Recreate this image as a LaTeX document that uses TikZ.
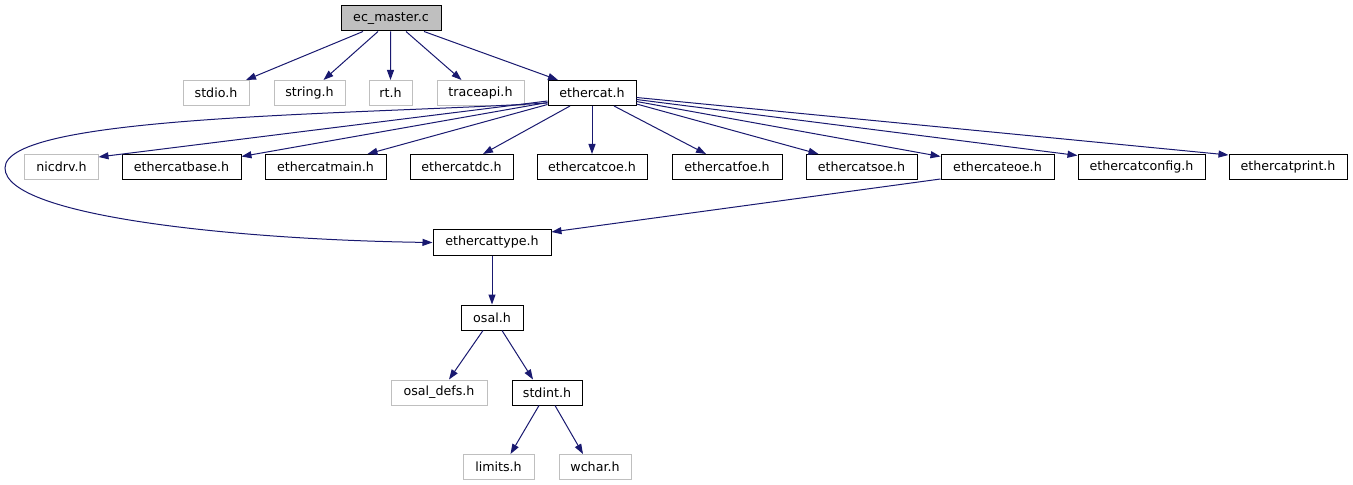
\documentclass[tikz,border=0pt]{standalone}
\usepackage{fontspec}
\setmainfont{DejaVu Sans}
\usetikzlibrary{arrows.meta}
\definecolor{edgeblue}{HTML}{191970}
\definecolor{lightgr}{HTML}{BFBFBF}
\begin{document}
\begin{tikzpicture}[x=1bp,y=-1bp,
  box/.style={draw=black, line width=1bp, minimum height=25bp, inner sep=0pt,
    font=\fontsize{12.66bp}{15bp}\selectfont, text=black},
  ext/.style={box, draw=lightgr},
  root/.style={box, fill=lightgr},
  dep/.style={draw=edgeblue, line width=1bp, -{Triangle[length=10bp,width=7bp]}}]
\useasboundingbox[fill=white] (0,0) rectangle (1353,485);
% row 1
\node[root, minimum width=100bp] (ecm) at (391,18.5) {ec\_master.c};
% row 2
\node[ext, minimum width=66bp] (stdio) at (216,93) {stdio.h};
\node[ext, minimum width=71bp] (string) at (309.5,93) {string.h};
\node[ext, minimum width=43bp] (rt) at (390.5,93) {rt.h};
\node[ext, minimum width=87bp] (trace) at (480.5,93) {traceapi.h};
\node[box, minimum width=88bp] (ecat) at (592,93) {ethercat.h};
% row 3
\node[ext, minimum width=73bp] (nicdrv) at (61.5,167) {nicdrv.h};
\node[box, minimum width=119bp] (base) at (181.5,167) {ethercatbase.h};
\node[box, minimum width=121bp] (main) at (325.5,167) {ethercatmain.h};
\node[box, minimum width=103bp] (dc) at (461.5,167) {ethercatdc.h};
\node[box, minimum width=110bp] (coe) at (592,167) {ethercatcoe.h};
\node[box, minimum width=110bp] (foe) at (727,167) {ethercatfoe.h};
\node[box, minimum width=111bp] (soe) at (861.5,167) {ethercatsoe.h};
\node[box, minimum width=113bp] (eoe) at (997.5,167) {ethercateoe.h};
\node[box, minimum width=127bp] (config) at (1141.5,167) {ethercatconfig.h};
\node[box, minimum width=118bp] (print) at (1288,167) {ethercatprint.h};
% lower rows
\node[box, minimum width=118bp] (type) at (492,242.5) {ethercattype.h};
\node[box, minimum width=62bp] (osal) at (492,317.5) {osal.h};
\node[ext, minimum width=96bp] (osaldefs) at (439,392.5) {osal\_defs.h};
\node[box, minimum width=70bp] (stdint) at (547,392.5) {stdint.h};
\node[ext, minimum width=71bp] (limits) at (498.5,467) {limits.h};
\node[ext, minimum width=72bp] (wchar) at (595,467) {wchar.h};
% edges from ec_master.c
\draw[dep] ([xshift=-28bp]ecm.south) -- ([xshift=30bp]stdio.north);
\draw[dep] ([xshift=-13bp]ecm.south) -- ([xshift=14bp]string.north);
\draw[dep] ([xshift=-0.5bp]ecm.south) -- (rt.north);
\draw[dep] ([xshift=15bp]ecm.south) -- ([xshift=-19bp]trace.north);
\draw[dep] ([xshift=33bp]ecm.south) -- ([xshift=-34bp]ecat.north);
% edges from ethercat.h
\draw[dep] ([yshift=-8bp]ecat.west) -- ([yshift=-3bp]nicdrv.north east);
\draw[dep] ([yshift=-9.5bp]ecat.west) -- ([yshift=-2.5bp]base.north east);
\draw[dep] ([yshift=-11.5bp]ecat.west) -- ([xshift=42bp]main.north);
\draw[dep] ([xshift=-22bp]ecat.south) -- ([xshift=21.5bp]dc.north);
\draw[dep] (ecat.south) -- (coe.north);
\draw[dep] ([xshift=22bp]ecat.south) -- ([xshift=-21bp]foe.north);
\draw[dep] ([yshift=-11bp]ecat.east) -- ([xshift=-43bp]soe.north);
\draw[dep] ([yshift=-8.5bp]ecat.east) -- ([yshift=-2.5bp]eoe.north west);
\draw[dep] ([yshift=-6.5bp]ecat.east) -- ([yshift=-1.5bp]config.north west);
\draw[dep] ([yshift=-4.5bp]ecat.east) -- ([yshift=-1bp]print.north west);
\draw[dep] ([yshift=-10bp]ecat.west) .. controls (350,115) and (5,115) .. (5,168)
  .. controls (5,218) and (250,240) .. (type.west);
% lower edges
\draw[dep] ([yshift=-12bp]eoe.west) -- ([yshift=-2.5bp]type.north east);
\draw[dep] (type.south) -- (osal.north);
\draw[dep] ([xshift=-9bp]osal.south) -- ([xshift=10bp]osaldefs.north);
\draw[dep] ([xshift=10bp]osal.south) -- ([xshift=-14bp]stdint.north);
\draw[dep] ([xshift=-8bp]stdint.south) -- ([xshift=12bp]limits.north);
\draw[dep] ([xshift=8bp]stdint.south) -- ([xshift=-12bp]wchar.north);
\end{tikzpicture}
\end{document}
